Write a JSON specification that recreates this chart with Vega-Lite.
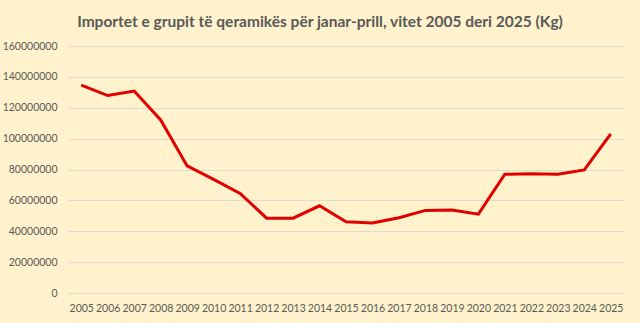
{
  "$schema": "https://vega.github.io/schema/vega-lite/v6.json",
  "width": 556,
  "height": 247,
  "autosize": {"type": "none"},
  "padding": {"left": 68, "top": 46, "right": 16, "bottom": 30},
  "background": "#FFF2CC",
  "title": {
    "text": "Importet e grupit të qeramikës për janar-prill, vitet 2005 deri 2025 (Kg)",
    "font": "Lato",
    "fontSize": 15.5,
    "fontWeight": "bold",
    "color": "#595959",
    "anchor": "middle",
    "dx": -26,
    "offset": 11
  },
  "data": {
    "values": [
      {"year": "2005", "kg": 134700000},
      {"year": "2006", "kg": 127900000},
      {"year": "2007", "kg": 130800000},
      {"year": "2008", "kg": 112100000},
      {"year": "2009", "kg": 82300000},
      {"year": "2010", "kg": 73600000},
      {"year": "2011", "kg": 64500000},
      {"year": "2012", "kg": 48500000},
      {"year": "2013", "kg": 48500000},
      {"year": "2014", "kg": 56500000},
      {"year": "2015", "kg": 46100000},
      {"year": "2016", "kg": 45300000},
      {"year": "2017", "kg": 48700000},
      {"year": "2018", "kg": 53500000},
      {"year": "2019", "kg": 53700000},
      {"year": "2020", "kg": 51100000},
      {"year": "2021", "kg": 76900000},
      {"year": "2022", "kg": 77200000},
      {"year": "2023", "kg": 76900000},
      {"year": "2024", "kg": 79700000},
      {"year": "2025", "kg": 103100000}
    ]
  },
  "mark": {"type": "line", "color": "#E00000", "strokeWidth": 3},
  "encoding": {
    "x": {
      "field": "year",
      "type": "ordinal",
      "scale": {"type": "point", "padding": 0.5},
      "axis": {
        "title": null,
        "labelAngle": 0,
        "domain": false,
        "ticks": false,
        "labelFont": "Lato",
        "labelFontSize": 10.5,
        "labelColor": "#595959",
        "labelPadding": 10
      }
    },
    "y": {
      "field": "kg",
      "type": "quantitative",
      "scale": {"domain": [0, 160000000], "nice": false},
      "axis": {
        "title": null,
        "values": [0, 20000000, 40000000, 60000000, 80000000, 100000000, 120000000, 140000000, 160000000],
        "format": "d",
        "domain": false,
        "ticks": false,
        "labelFont": "Lato",
        "labelFontSize": 10.5,
        "labelColor": "#595959",
        "labelPadding": 11,
        "gridColor": "#E0DCCB",
        "gridWidth": 1.2
      }
    }
  },
  "config": {"view": {"stroke": null}}
}
